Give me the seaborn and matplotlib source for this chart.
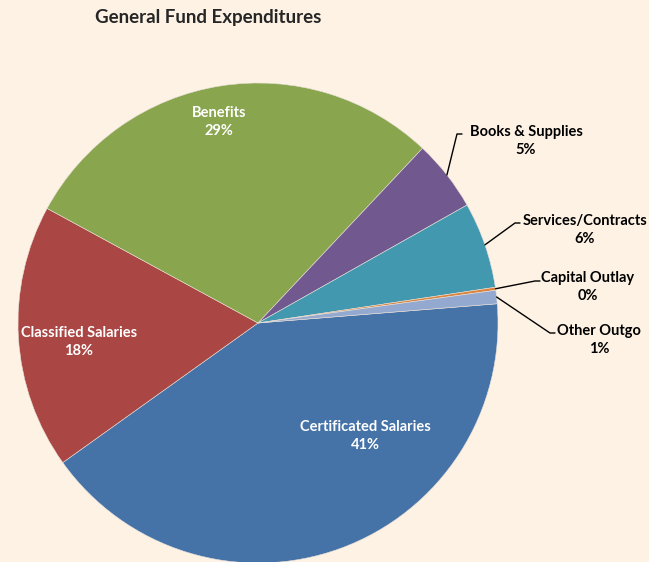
import numpy as np
import matplotlib
matplotlib.use("Agg")
import matplotlib.pyplot as plt
import seaborn as sns

# General fund expenditure shares (percent), clockwise from Certificated Salaries
categories = ["Certificated Salaries", "Classified Salaries", "Benefits",
              "Books & Supplies", "Services/Contracts", "Capital Outlay", "Other Outgo"]
shares = [41.4, 17.8, 29.1, 4.8, 5.8, 0.2, 0.9]
pct_labels = ["41%", "18%", "29%", "5%", "6%", "0%", "1%"]
colors = ["#4572A7", "#AA4643", "#89A54E", "#71588F", "#4198AF", "#DB843D", "#93A9CF"]

sns.set_style("white")
plt.rcParams["font.family"] = ["Lato", "DejaVu Sans"]

bg = "#FDF2E4"
fig = plt.figure(figsize=(6.49, 5.62), dpi=100, facecolor=bg)
ax = fig.add_axes([0, 0, 1, 1], facecolor=bg)

cx, cy, r = 258, 562 - 323, 240
wedges, _ = ax.pie(shares, colors=colors, startangle=4.6, counterclock=False,
                   center=(cx, cy), radius=r, frame=True,
                   wedgeprops=dict(edgecolor="#e8e0d8", linewidth=0.4))
ax.set_xlim(0, 649)
ax.set_ylim(0, 562)
ax.set_axis_off()

# labels inside the big slices
inside = {0: (365, 562 - 436), 1: (79, 562 - 342), 2: (219, 562 - 122)}
for i, (tx, ty) in inside.items():
    ax.text(tx, ty, f"{categories[i]}\n{pct_labels[i]}", ha="center", va="center",
            color="white", fontsize=10.5, fontweight="bold", linespacing=1.3)

# outside labels with leader lines
outside = {3: (526, 562 - 141, 462, 562 - 134),
           4: (585, 562 - 230, 520, 562 - 223),
           5: (588, 562 - 287, 540, 562 - 281),
           6: (599, 562 - 340, 555, 562 - 333)}
for i, (tx, ty, ex, ey) in outside.items():
    w = wedges[i]
    ang = np.deg2rad((w.theta1 + w.theta2) / 2)
    px, py = cx + r * np.cos(ang), cy + r * np.sin(ang)
    # kink point just left of the text
    kx = ex - 5
    ax.plot([px, kx, ex], [py, ey, ey], color="black", lw=1)
    ax.text(tx, ty, f"{categories[i]}\n{pct_labels[i]}", ha="center", va="center",
            color="black", fontsize=10.5, fontweight="bold", linespacing=1.3)

fig.text(208 / 649, 1 - 17 / 562, "General Fund Expenditures", ha="center", va="center",
         fontsize=13.5, fontweight="bold")

fig.savefig("out.png", dpi=100, facecolor=bg)
